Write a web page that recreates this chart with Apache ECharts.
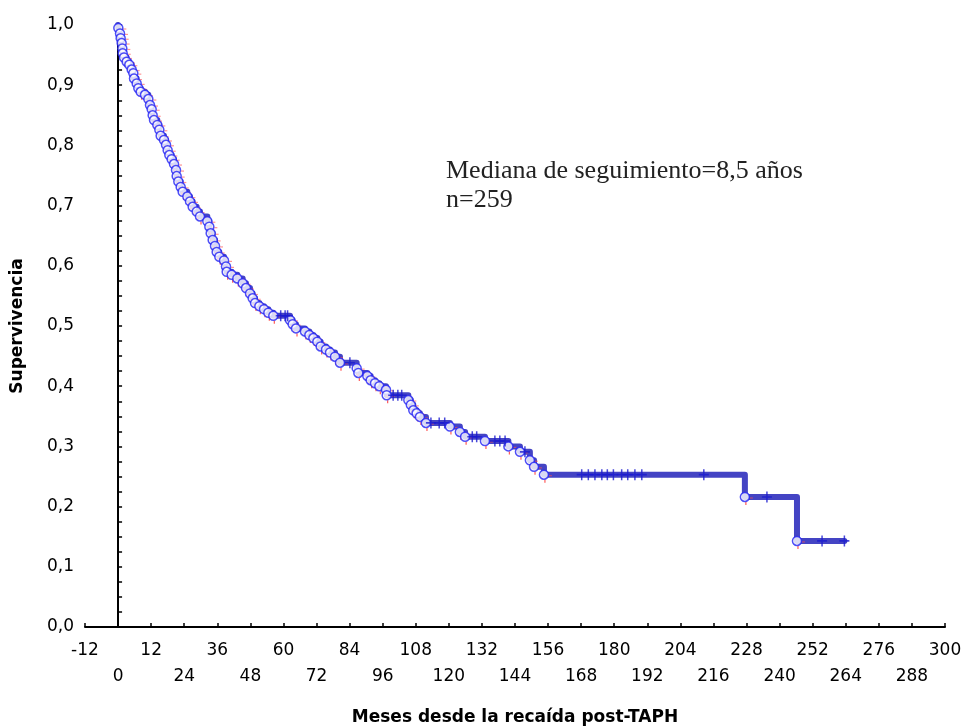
<!DOCTYPE html>
<html>
<head>
<meta charset="utf-8">
<title>Supervivencia</title>
<script src="https://cdn.jsdelivr.net/npm/echarts@6/dist/echarts.min.js"></script>
<style>
  html, body { margin: 0; padding: 0; background: #fff; }
  #chart { width: 963px; height: 727px; }
</style>
</head>
<body>
<div id="chart"></div>
<script>
// Kaplan-Meier estimate: months at which deaths occur and survival after each step
const eventMonths = [
  0.09, 0.70, 0.94, 1.30, 1.54, 1.67, 2.15, 3.12, 4.08, 4.93,
  5.53, 5.78, 6.75, 7.35, 8.20, 9.77, 10.98, 11.58, 12.19, 12.55,
  13.03, 14.24, 14.97, 15.45, 16.66, 17.39, 17.99, 18.59, 19.44, 20.29,
  21.01, 21.26, 21.86, 22.71, 23.43, 25.13, 26.09, 27.06, 28.51, 29.72,
  32.38, 33.11, 33.59, 34.32, 35.16, 35.77, 36.73, 38.43, 39.15, 39.40,
  41.21, 43.27, 45.20, 46.41, 47.86, 48.83, 49.68, 51.25, 52.94, 54.51,
  56.32, 62.37, 63.34, 64.55, 67.81, 69.39, 70.84, 72.29, 73.50, 75.43,
  76.88, 78.70, 80.51, 86.56, 87.16, 90.43, 91.64, 93.21, 94.78, 97.20,
  97.44, 105.3, 106.2, 107.1, 108.3, 109.5, 111.7, 120.4, 124.0, 125.9,
  133.1, 141.6, 145.8, 149.4, 150.9, 154.5, 227.4, 246.3
];
const eventSurvival = [
  0.995, 0.986, 0.978, 0.970, 0.961, 0.953, 0.946, 0.939, 0.934, 0.926,
  0.920, 0.911, 0.903, 0.895, 0.889, 0.884, 0.877, 0.867, 0.860, 0.850,
  0.842, 0.834, 0.826, 0.816, 0.809, 0.801, 0.792, 0.784, 0.777, 0.769,
  0.759, 0.749, 0.740, 0.731, 0.723, 0.715, 0.707, 0.698, 0.690, 0.682,
  0.674, 0.665, 0.654, 0.643, 0.633, 0.623, 0.615, 0.609, 0.599, 0.590,
  0.585, 0.579, 0.571, 0.563, 0.554, 0.546, 0.538, 0.533, 0.528, 0.522,
  0.517, 0.510, 0.503, 0.496, 0.491, 0.485, 0.480, 0.474, 0.466, 0.461,
  0.456, 0.449, 0.439, 0.430, 0.422, 0.417, 0.410, 0.405, 0.400, 0.394,
  0.385, 0.377, 0.369, 0.360, 0.355, 0.349, 0.339, 0.333, 0.324, 0.316,
  0.309, 0.300, 0.291, 0.277, 0.266, 0.253, 0.216, 0.143
];
// Censored follow-up times (months)
const censorMonths = [
  59.0, 60.6, 61.5, 84.1, 99.8, 101.5, 102.9, 113.5, 116.5, 118.5,
  128.5, 130.1, 136.7, 138.5, 140.4, 147.6, 168.2, 170.6, 173.0, 175.5,
  177.5, 179.7, 182.7, 184.9, 187.5, 190.0, 212.5, 235.4, 255.4, 263.5
];
const annotationLines = ['Mediana de seguimiento=8,5 años', 'n=259'];

// survival level in force at time t (step function)
function survivalAt(t) {
  let s = 1;
  for (let i = 0; i < eventMonths.length; i++) {
    if (eventMonths[i] <= t) s = eventSurvival[i]; else break;
  }
  return s;
}

const eventPoints = eventMonths.map((m, i) => [m, eventSurvival[i]]);
const censorPoints = censorMonths.map(m => [m, survivalAt(m)]);
const lastCensor = censorMonths[censorMonths.length - 1];
const curve = [[0, 1]].concat(eventPoints, [[lastCensor, survivalAt(lastCensor)]]);

const axisFont = 'DejaVu Sans';
const chart = echarts.init(document.getElementById('chart'), null, { renderer: 'canvas' });
chart.setOption({
  animation: false,
  backgroundColor: '#ffffff',
  grid: { left: 85, right: 18, top: 25, bottom: 100, containLabel: false, outerBoundsMode: 'none' },
  xAxis: {
    type: 'value', min: -12, max: 300, interval: 12,
    name: 'Meses desde la recaída post-TAPH',
    nameLocation: 'middle', nameGap: 82,
    nameTextStyle: { fontFamily: axisFont, fontWeight: 'bold', fontSize: 17, color: '#000' },
    axisLine: { show: true, onZero: false, lineStyle: { color: '#000', width: 2 } },
    axisTick: { show: true, inside: true, length: 4, lineStyle: { color: '#000', width: 1.5 } },
    splitLine: { show: false },
    axisLabel: {
      show: true, margin: 11, lineHeight: 26,
      fontFamily: axisFont, fontSize: 17, color: '#000',
      formatter: v => ((v + 12) % 24 === 0) ? (v + '\n ') : (' \n' + v)
    }
  },
  yAxis: {
    type: 'value', min: 0, max: 1, interval: 0.1,
    name: 'Supervivencia',
    nameLocation: 'middle', nameGap: 59,
    nameTextStyle: { fontFamily: axisFont, fontWeight: 'bold', fontSize: 17, color: '#000' },
    axisLine: { show: true, lineStyle: { color: '#000', width: 2 } },
    axisTick: { show: true, inside: true, length: 4, lineStyle: { color: '#000', width: 1.5 } },
    minorTick: { show: true, splitNumber: 4, length: 4, lineStyle: { color: '#000', width: 1.5 } },
    splitLine: { show: false },
    axisLabel: {
      show: true, margin: 11,
      fontFamily: axisFont, fontSize: 17, color: '#000',
      formatter: v => v.toFixed(1).replace('.', ',')
    }
  },
  graphic: [{
    type: 'text', left: 446, top: 157,
    style: {
      text: annotationLines.join('\n'),
      font: '26px "Liberation Serif"', lineHeight: 29, fill: '#222'
    }
  }],
  series: [
    {
      name: 'Supervivencia', type: 'line', data: curve, step: 'end',
      showSymbol: false, silent: true, z: 2,
      lineStyle: { width: 6, color: '#4444c4', cap: 'round', join: 'round' }
    },
    {
      name: 'marca', type: 'scatter', data: eventPoints, silent: true, z: 3,
      symbol: 'rect', symbolSize: [1.2, 3], symbolOffset: [1, 6.5],
      itemStyle: { color: '#ff3030', opacity: 0.8 }
    },
    {
      name: 'marca2', type: 'scatter', data: eventPoints, silent: true, z: 3,
      symbol: 'rect', symbolSize: [3, 1.2], symbolOffset: [6.5, 1],
      itemStyle: { color: '#ff5050', opacity: 0.6 }
    },
    {
      name: 'Muertes', type: 'scatter', data: eventPoints, silent: true, z: 4,
      symbol: 'circle', symbolSize: 9,
      itemStyle: { color: '#ffffff', borderColor: '#2222f4', borderWidth: 1.5 }
    },
    {
      name: 'Censurados', type: 'scatter', data: censorPoints, silent: true, z: 5,
      symbol: 'path://M4.25,0h1.5v10h-1.5z M0,4.25h10v1.5h-10z', symbolSize: [10, 11],
      itemStyle: { color: '#1a1ad0' }
    }
  ]
});
</script>
</body>
</html>
